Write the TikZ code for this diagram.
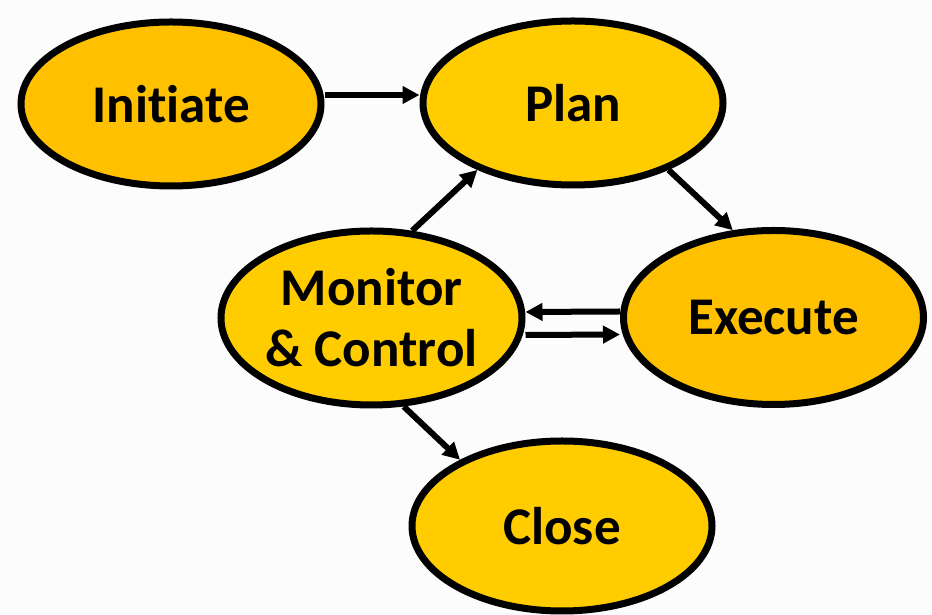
\documentclass[tikz,border=0pt]{standalone}
\usepackage{fontspec}
\setmainfont{Carlito}[Ligatures={NoCommon,NoRequired}]
\usetikzlibrary{shapes.geometric,arrows.meta}
\definecolor{darkgold}{HTML}{FFC000}
\definecolor{lightgold}{HTML}{FFCC00}
\definecolor{bgpaper}{HTML}{FCFCFC}
\tikzset{
  phase/.style={ellipse, draw=black, line width=7pt, inner sep=0pt,
    minimum width=300pt, minimum height=168pt, align=center,
    font=\fontsize{53}{61}\selectfont\bfseries},
  flow/.style={line width=6pt, -{Triangle[length=17pt,width=17pt]}},
}
\begin{document}
\begin{tikzpicture}[x=1pt,y=1pt]
\fill[bgpaper] (0,0) rectangle (932,615);
\useasboundingbox (0,0) rectangle (932,615);
\node[phase, fill=darkgold, minimum height=164pt] (init) at (171,511) {Initiate};
\node[phase, fill=lightgold, minimum height=164pt] (plan) at (573,512) {Plan};
\node[phase, fill=lightgold, minimum width=301pt, minimum height=174pt] (mc) at (371.5,297) {Monitor\\\& Control};
\node[phase, fill=darkgold, minimum height=174pt] (exec) at (773.5,297.5) {Execute};
\node[phase, fill=lightgold, minimum height=170pt] (close) at (562,89) {Close};
\draw[flow] ([yshift=9pt]init.east) -- ([yshift=8pt]plan.west);
\draw[flow] (mc.65) -- (plan.215);
\draw[flow] (plan.325) -- (exec.115);
\draw[flow] ([yshift=6pt]exec.west) -- ([yshift=6pt]mc.east);
\draw[flow] ([yshift=-17pt]mc.east) -- ([yshift=-17pt]exec.west);
\draw[flow] (mc.290) -- (close.147);
\end{tikzpicture}
\end{document}
